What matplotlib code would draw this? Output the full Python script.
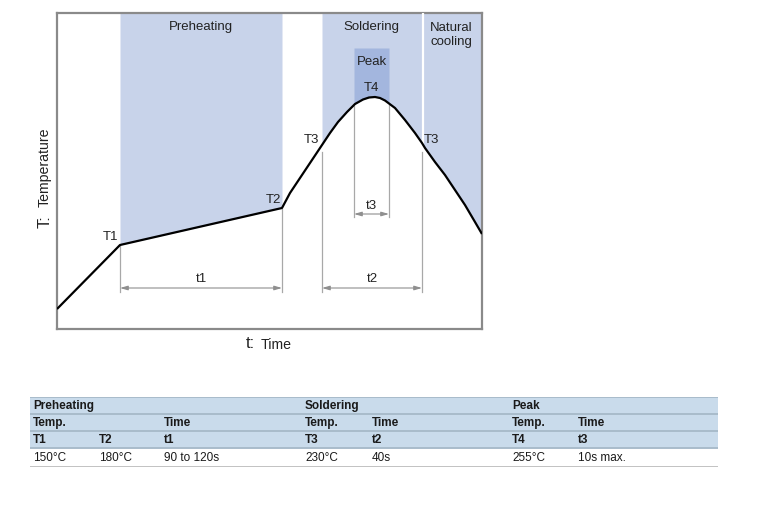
import matplotlib
matplotlib.use("Agg")
import matplotlib.pyplot as plt
import numpy as np

plt.rcParams['font.family'] = ['Liberation Sans', 'DejaVu Sans']

# ---------------- data (schematic reflow profile, arbitrary units) ----------------
time_pts = [0, 63, 225, 233, 243, 253, 263, 265, 273, 281, 290, 297, 298, 306, 312, 318,
            323, 328, 332, 338, 348, 358, 365, 368, 378, 388, 398, 408, 418, 425]
temp_pts = [20, 84, 121, 136, 151, 166, 181, 184, 196, 207, 217, 224, 225, 229.5, 231.5, 232,
            231, 228.5, 225.5, 221, 209, 196, 186, 181, 167, 154, 139, 124, 107, 95]

t_T1, t_T2 = 63, 225          # preheating zone
t_T3a, t_T3b = 265, 365       # soldering zone (T3 crossings)
t_Pa, t_Pb = 297, 332         # peak zone
t_end = 425
temp_top = 316
peak_top = 281

zone_labels = ["Preheating", "Soldering", "Natural\ncooling", "Peak"]
point_labels = ["T1", "T2", "T3", "T3", "T4"]
dim_labels = ["t1", "t2", "t3"]

# table contents
table_row1 = ["Preheating", "", "", "Soldering", "", "Peak", ""]
table_row2 = ["Temp.", "", "Time", "Temp.", "Time", "Temp.", "Time"]
table_row3 = ["T1", "T2", "t1", "T3", "t2", "T4", "t3"]
table_row4 = ["150°C", "180°C", "90 to 120s", "230°C", "40s", "255°C", "10s max."]

# ---------------- figure ----------------
W, H = 783, 514
fig = plt.figure(figsize=(W / 100, H / 100), dpi=100)
fig.patch.set_facecolor("white")

ax = fig.add_axes([57 / W, 1 - 329 / H, (482 - 57) / W, (329 - 13) / H])
ax.set_xlim(0, t_end)
ax.set_ylim(0, temp_top)
ax.set_xticks([])
ax.set_yticks([])
for s in ax.spines.values():
    s.set_color("#8a8a8a")
    s.set_linewidth(1.6)

x = np.array(time_pts, dtype=float)
y = np.array(temp_pts, dtype=float)

light = "#c8d3ea"
dark = "#a3b6de"

ax.fill_between(x, y, temp_top, where=(x >= t_T1) & (x <= t_T2), color=light, lw=0, zorder=1)
ax.fill_between(x, y, temp_top, where=(x >= t_T3a) & (x <= t_end), color=light, lw=0, zorder=1)
ax.fill_between(x, y, peak_top, where=(x >= t_Pa) & (x <= t_Pb), color=dark, lw=0, zorder=2)
# white separator between soldering and natural cooling
ax.plot([t_T3b + 1.2, t_T3b + 1.2], [186, temp_top], color="white", lw=1.6, zorder=3)

ax.plot(x, y, color="black", lw=1.6, zorder=6, solid_joinstyle="round", solid_capstyle="butt")

gray = "#a8a8a8"
vlw = 0.9
def yat(t):
    return np.interp(t, x, y)

dim_base = 37
arrow_y = 41
# t1
for t in (t_T1, t_T2):
    ax.plot([t, t], [dim_base, yat(t) - 1], color=gray, lw=vlw, zorder=4)
# t2
for t in (t_T3a, t_T3b):
    ax.plot([t, t], [dim_base, 177], color=gray, lw=vlw, zorder=4)
# t3
for t in (t_Pa, t_Pb):
    ax.plot([t, t], [112, yat(t) - 1], color=gray, lw=vlw, zorder=4)

astyle = dict(arrowstyle="<|-|>,head_length=0.45,head_width=0.13", color="#8f8f8f", lw=0.8,
              shrinkA=0, shrinkB=0)
ax.annotate("", xy=(t_T1, arrow_y), xytext=(t_T2, arrow_y), arrowprops=astyle, zorder=5)
ax.annotate("", xy=(t_T3a, arrow_y), xytext=(t_T3b, arrow_y), arrowprops=astyle, zorder=5)
ax.annotate("", xy=(t_Pa, 115), xytext=(t_Pb, 115), arrowprops=astyle, zorder=5)

tc = "#222222"
fs = 9.5
mid_pre = (t_T1 + t_T2) / 2
mid_sol = (t_T3a + t_T3b) / 2
mid_peak = (t_Pa + t_Pb) / 2
ax.text(mid_pre, 302, zone_labels[0], ha="center", va="center", fontsize=fs, color=tc, zorder=7)
ax.text(mid_peak, 302, zone_labels[1], ha="center", va="center", fontsize=fs, color=tc, zorder=7)
ax.text((t_T3b + t_end) / 2 - 1, 294, zone_labels[2], ha="center", va="center", fontsize=fs,
        color=tc, linespacing=1.2, zorder=7)
ax.text(mid_peak, 267, zone_labels[3], ha="center", va="center", fontsize=fs, color=tc, zorder=7)

ax.text(t_T1 - 9, 92, point_labels[0], ha="center", va="center", fontsize=fs, color=tc, zorder=7)
ax.text(t_T2 - 9, 129, point_labels[1], ha="center", va="center", fontsize=fs, color=tc, zorder=7)
ax.text(t_T3a - 11, 189, point_labels[2], ha="center", va="center", fontsize=fs, color=tc, zorder=7)
ax.text(t_T3b + 9, 189, point_labels[3], ha="center", va="center", fontsize=fs, color=tc, zorder=7)
ax.text(mid_peak, 241, point_labels[4], ha="center", va="center", fontsize=fs, color=tc, zorder=7)

ax.text(mid_pre, 50, dim_labels[0], ha="center", va="center", fontsize=fs, color=tc, zorder=7)
ax.text(mid_sol, 50, dim_labels[1], ha="center", va="center", fontsize=fs, color=tc, zorder=7)
ax.text(mid_peak, 123, dim_labels[2], ha="center", va="center", fontsize=fs, color=tc, zorder=7)

# axis labels
fig.text(45 / W, 1 - 228 / H, "T:", rotation=90, ha="center", va="bottom", fontsize=12, color=tc)
fig.text(45 / W, 1 - 207 / H, "Temperature", rotation=90, ha="center", va="bottom", fontsize=10.2, color=tc)
fig.text(246 / W, 1 - 343 / H, "t:", ha="left", va="center", fontsize=12, color=tc)
fig.text(261 / W, 1 - 345 / H, "Time", ha="left", va="center", fontsize=10.2, color=tc)

# ---------------- table ----------------
tx0, tx1, ty0, ty1 = 30, 718, 397, 467
tax = fig.add_axes([tx0 / W, 1 - ty1 / H, (tx1 - tx0) / W, (ty1 - ty0) / H])
tax.set_xlim(tx0, tx1)
tax.set_ylim(ty1, ty0)
tax.axis("off")

row_edges = [397, 414, 431, 448, 467]
tblue = "#c9dbeb"
sep = "#a9bccb"
for i in range(3):
    tax.add_patch(plt.Rectangle((tx0, row_edges[i]), tx1 - tx0, row_edges[i + 1] - row_edges[i],
                                facecolor=tblue, edgecolor="none", zorder=1))
for e in row_edges[:4]:
    tax.plot([tx0, tx1], [e, e], color=sep, lw=1.4, zorder=2)
tax.plot([tx0, tx1], [row_edges[4], row_edges[4]], color="#b8b8b8", lw=1.2, zorder=2)

col_x = [33, 99, 164, 305, 372, 512, 578]
rows = [table_row1, table_row2, table_row3, table_row4]
for r, row in enumerate(rows):
    yc = (row_edges[r] + row_edges[r + 1]) / 2 + 0.5
    for c, txt in enumerate(row):
        if txt:
            tax.text(col_x[c], yc, txt, ha="left", va="center", fontsize=8.5,
                     fontweight="bold" if r < 3 else "normal", color="#1a1a1a", zorder=3)

fig.savefig("out.png", dpi=100, facecolor="white")
